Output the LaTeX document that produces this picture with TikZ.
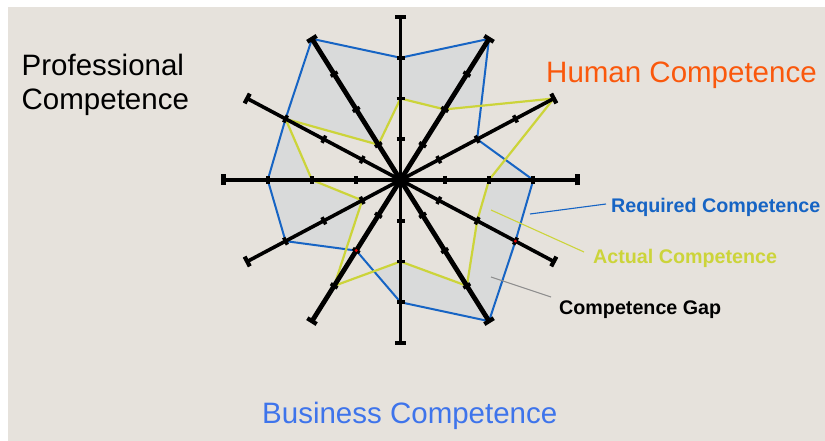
\documentclass[tikz,border=0pt]{standalone}
\usepackage{fontspec}
\setmainfont{Liberation Sans}
\usepackage{xcolor}
\usetikzlibrary{calc}

\definecolor{pagebg}{RGB}{230,226,220}
\definecolor{gapfill}{RGB}{217,218,218}
\definecolor{reqblue}{RGB}{22,100,196}
\definecolor{actgreen}{RGB}{204,212,58}
\definecolor{humanorange}{RGB}{250,88,12}
\definecolor{busblue}{RGB}{62,116,235}
\definecolor{leadgray}{RGB}{140,140,140}

\begin{document}
\begin{tikzpicture}[
    x=1pt, y=-1pt,
    area/.style={font=\fontsize{29.5}{32}\selectfont, anchor=base west, inner sep=0pt},
    keylbl/.style={font=\fontsize{19.7}{23}\selectfont\bfseries, anchor=base west, inner sep=0pt},
    reqline/.style={reqblue, line width=2pt, line join=round},
    actline/.style={actgreen, line width=2.2pt, line join=round},
    leader/.style={line width=1.1pt},
    tickbar/.style={line width=3.6pt},
    capbar/.style={line width=4.2pt},
]

% ========== Page ==========
\fill[white] (0,0) rectangle (825,441);
\fill[pagebg] (8,7) rectangle (825,441);
\useasboundingbox (0,0) rectangle (825,441);

% ========== Radar ==========
\begin{scope}[shift={(400.5,180)}, x=177pt, y=163pt]
\coordinate (ctr) at (0,0);
\foreach \a in {0,30,...,330} {
    \coordinate (end\a) at (\a:1);
}

% gap = required area outside actual area
\fill[gapfill] (0:0.75) -- (30:0.5) -- (60:1) -- (90:0.75) -- (120:1) -- (150:0.75)
    -- (180:0.75) -- (210:0.75) -- (240:0.5) -- (270:0.75) -- (300:1) -- (330:0.75) -- cycle;
\fill[pagebg] (0:0.5) -- (30:1) -- (60:0.5) -- (90:0.5) -- (120:0.25) -- (150:0.75)
    -- (180:0.5) -- (210:0.25) -- (240:0.75) -- (270:0.5) -- (300:0.75) -- (330:0.5) -- cycle;

% Required profile
\draw[reqline] (0:0.75) -- (30:0.5) -- (60:1) -- (90:0.75) -- (120:1) -- (150:0.75)
    -- (180:0.75) -- (210:0.75) -- (240:0.5) -- (270:0.75) -- (300:1) -- (330:0.75) -- cycle;
% Actual profile
\draw[actline] (0:0.5) -- (30:1) -- (60:0.5) -- (90:0.5) -- (120:0.25) -- (150:0.75)
    -- (180:0.5) -- (210:0.25) -- (240:0.75) -- (270:0.5) -- (300:0.75) -- (330:0.5) -- cycle;

% Spokes with ticks and end bars
\foreach \a/\w in {0/4, 30/3.6, 60/4.8, 90/3.4, 120/4.8, 150/3.6, 180/4, 210/3.6, 240/4.8, 270/3.4, 300/4.8, 330/3.6} {
    \draw[line width=\w pt] (ctr) -- (end\a);
    \foreach \f in {0.25,0.5,0.75} {
        \draw[tickbar] ($(ctr)!\f!(end\a)!4pt!90:(end\a)$) -- ($(ctr)!\f!(end\a)!4pt!-90:(end\a)$);
    }
    \draw[capbar] ($(end\a)!5.5pt!90:(ctr)$) -- ($(end\a)!5.5pt!-90:(ctr)$);
}

% red marks
\fill[red!90!black] (330:0.75) circle (1.6pt);
\fill[red!90!black] (240:0.5) circle (1.6pt);
\end{scope}

% ========== Area labels ==========
\node[area] (prof1) at (21.5,76) {Professional};
\node[area] (prof2) at (21.5,110) {Competence};
\node[area, text=humanorange] (human) at (546,82.5) {Human Competence};
\node[area, text=busblue] (business) at (262,423) {Business Competence};

% ========== Key ==========
\node[keylbl, text=reqblue] (reqlbl) at (611,212.5) {Required Competence};
\node[keylbl, text=actgreen] (actlbl) at (593,263) {Actual Competence};
\node[keylbl] (gaplbl) at (559,314) {Competence Gap};

\coordinate (reqpin) at (530,214);
\coordinate (reqtip) at (606,204);
\coordinate (actpin) at (491,210);
\coordinate (acttip) at (584,252);
\coordinate (gappin) at (491,277);
\coordinate (gaptip) at (551,297);
\draw[leader, reqblue] (reqpin) -- (reqtip);
\draw[leader, actgreen] (actpin) -- (acttip);
\draw[leader, leadgray] (gappin) -- (gaptip);

\end{tikzpicture}
\end{document}
